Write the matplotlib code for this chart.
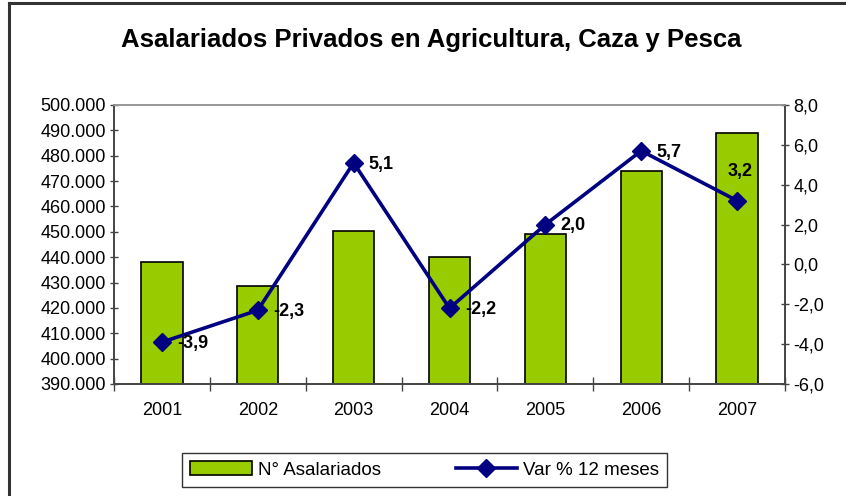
import matplotlib
matplotlib.use("Agg")
import matplotlib.pyplot as plt
from matplotlib.lines import Line2D
from matplotlib.ticker import FixedLocator, FuncFormatter

years = ["2001", "2002", "2003", "2004", "2005", "2006", "2007"]
asalariados = [438000, 428500, 450500, 440100, 449200, 474000, 489100]
var_pct = [-3.9, -2.3, 5.1, -2.2, 2.0, 5.7, 3.2]
left_ticks = [390000, 400000, 410000, 420000, 430000, 440000, 450000, 460000, 470000, 480000, 490000, 500000]
right_ticks = [-6, -4, -2, 0, 2, 4, 6, 8]

plt.rcParams['font.family'] = ['Liberation Sans', 'DejaVu Sans']

fig = plt.figure(figsize=(8.46, 4.96), dpi=100)
ax = fig.add_axes([114/846, 1-384/496, (785-114)/846, (384-105)/496])
ax2 = ax.twinx()

x = list(range(len(years)))
ax.bar(x, asalariados, width=0.43, color="#99CC00", edgecolor="black", linewidth=1.2,
       label="N° Asalariados", zorder=2)
ax.set_xlim(-0.5, len(years)-0.5)
ax.set_ylim(390000, 500000)
ax.yaxis.set_major_locator(FixedLocator(left_ticks))
ax.yaxis.set_major_formatter(FuncFormatter(lambda v, p: f"{int(v):,}".replace(",", ".")))
ax.set_xticks(x)
ax.set_xticklabels(years)
ax.xaxis.set_minor_locator(FixedLocator([i - 0.5 for i in range(len(years)+1)]))
ax.tick_params(axis='x', which='major', length=0, pad=13, labelsize=13)
ax.tick_params(axis='x', which='minor', length=10, direction='inout', width=1, color='#444444')
ax.tick_params(axis='y', length=6, direction='inout', width=1, labelsize=13, pad=3, color='#444444')

line, = ax2.plot(x, var_pct, color="#000080", linewidth=2.6, marker="D", markersize=9.5,
                 label="Var % 12 meses", zorder=5)
ax2.set_ylim(-6, 8)
ax2.yaxis.set_major_locator(FixedLocator(right_ticks))
ax2.yaxis.set_major_formatter(FuncFormatter(lambda v, p: f"{v:.1f}".replace(".", ",")))
ax2.tick_params(axis='y', length=6, direction='inout', width=1, labelsize=13, pad=3, color='#444444')

for i, v in enumerate(var_pct):
    txt = f"{v:.1f}".replace(".", ",")
    if i == len(var_pct) - 1:
        ax2.annotate(txt, (i, v), xytext=(2, 21), textcoords="offset points",
                     ha="center", va="center", fontsize=13, fontweight="bold", zorder=6)
    else:
        ax2.annotate(txt, (i, v), xytext=(11, -1), textcoords="offset points",
                     ha="left", va="center", fontsize=13, fontweight="bold", zorder=6)

for a in (ax, ax2):
    for s in a.spines.values():
        s.set_color("#444444")
        s.set_linewidth(1.2)
    a.spines['top'].set_color("#999999")

fig.text(431/846, 1-40/496, "Asalariados Privados en Agricultura, Caza y Pesca",
         ha="center", va="center", fontsize=18.5, fontweight="bold")

handles = [ax.patches[0], line]
leg = fig.legend(handles, ["N° Asalariados", "Var % 12 meses"], loc="center",
                 bbox_to_anchor=(424.5/846, 1-470/496), ncol=2, fontsize=13.5,
                 frameon=True, fancybox=False, edgecolor="black", handlelength=3.3,
                 columnspacing=4.0, borderpad=0.45, handletextpad=0.3)
leg.get_frame().set_linewidth(1.0)

fig.add_artist(Line2D([8.5/846, 8.5/846], [0, 1-3/496], color="#333333", linewidth=2.2,
                      transform=fig.transFigure))
fig.add_artist(Line2D([8.5/846, 1], [1-3/496, 1-3/496], color="#333333", linewidth=2.2,
                      transform=fig.transFigure))

fig.savefig("out.png", dpi=100)
